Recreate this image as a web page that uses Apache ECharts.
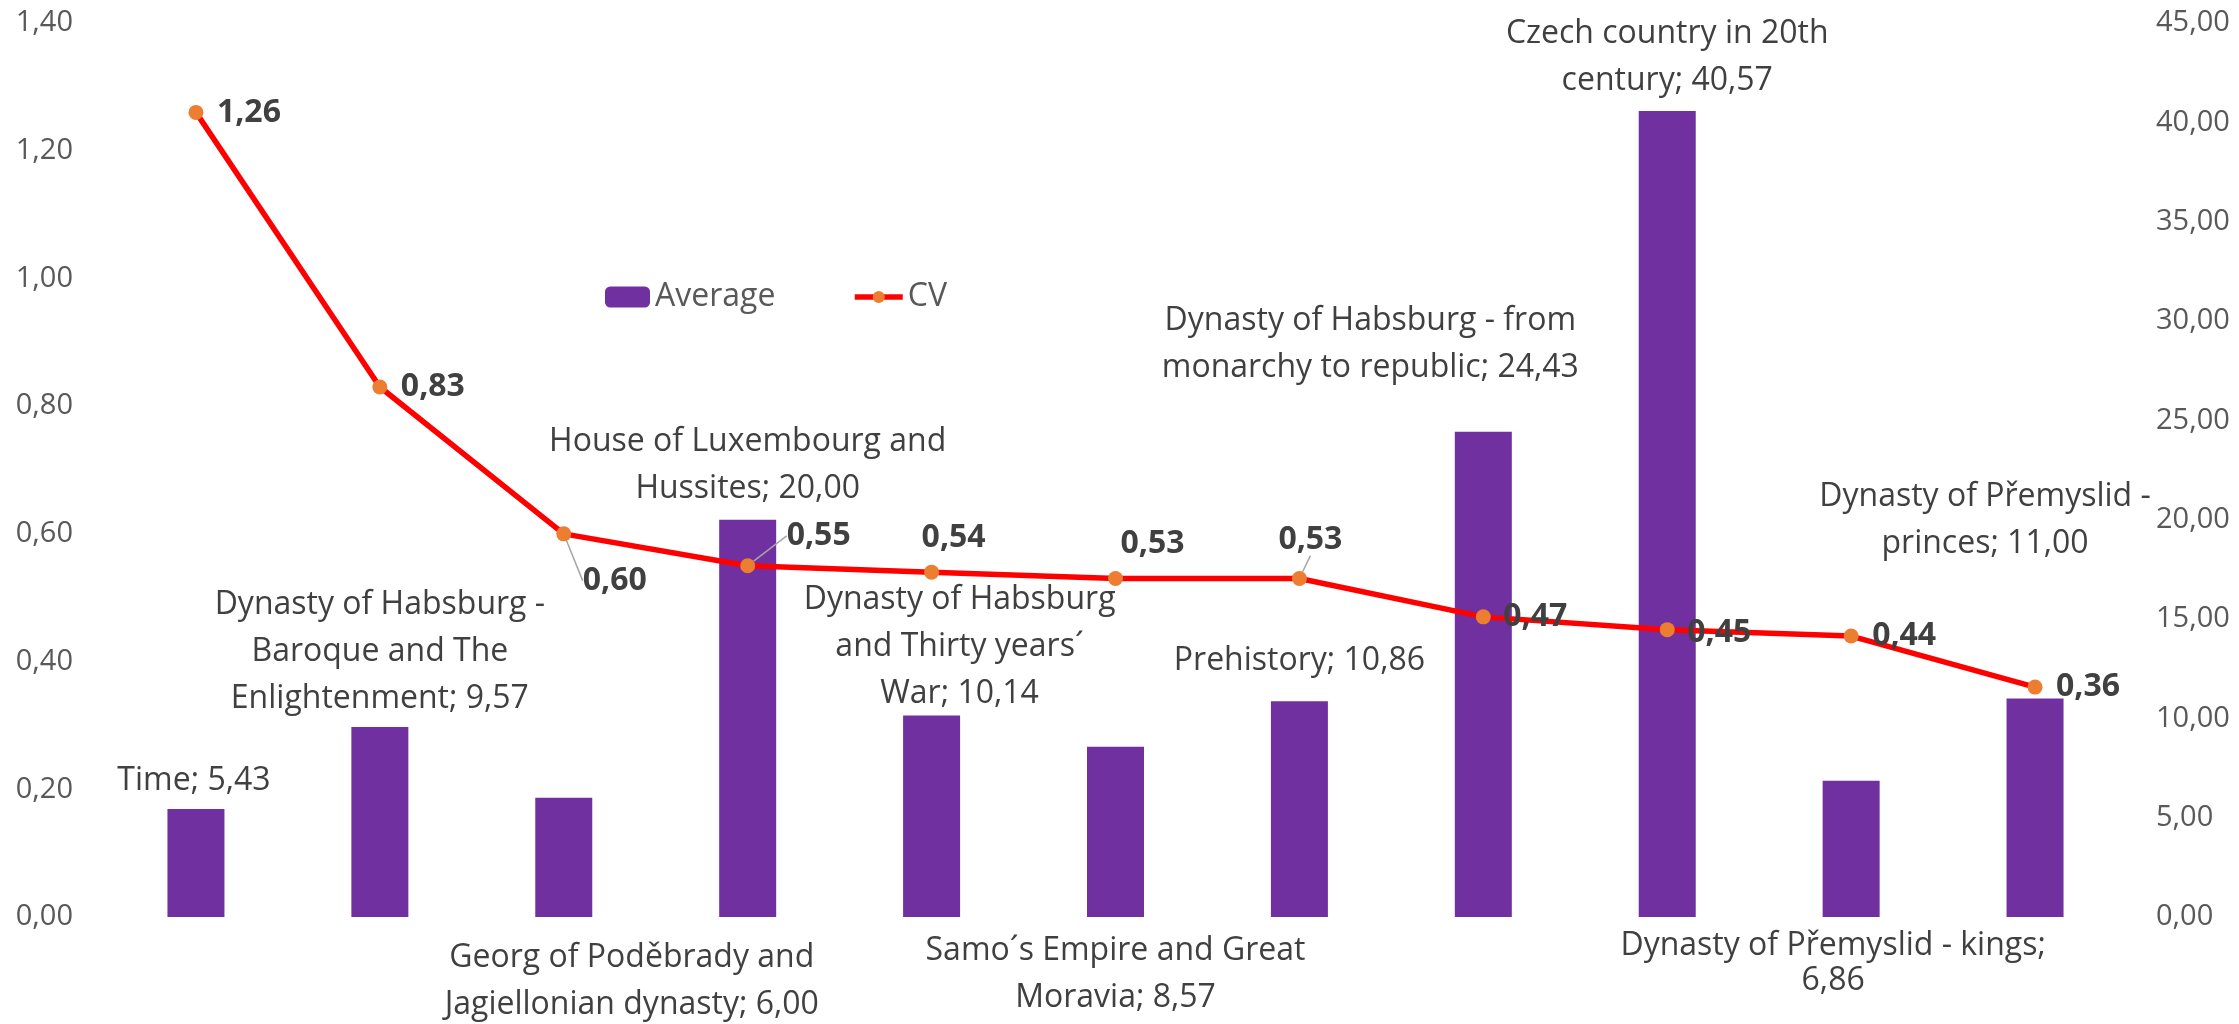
<!DOCTYPE html>
<html>
<head>
<meta charset="utf-8">
<script src="https://cdn.jsdelivr.net/npm/echarts@6/dist/echarts.min.js"></script>
<style>
html,body{margin:0;padding:0;background:#ffffff;}
#chart{width:2239px;height:1024px;}
</style>
</head>
<body>
<div id="chart"></div>
<script>
// ---------------- data ----------------
const categories = [
  "Time",
  "Dynasty of Habsburg - Baroque and The Enlightenment",
  "Georg of Poděbrady and Jagiellonian dynasty",
  "House of Luxembourg and Hussites",
  "Dynasty of Habsburg and Thirty years´ War",
  "Samo´s Empire and Great Moravia",
  "Prehistory",
  "Dynasty of Habsburg - from monarchy to republic",
  "Czech country in 20th century",
  "Dynasty of Přemyslid - kings",
  "Dynasty of Přemyslid - princes"
];
const averageValues = [5.43, 9.57, 6.00, 20.00, 10.14, 8.57, 10.86, 24.43, 40.57, 6.86, 11.00];
const cvValues = [1.26, 0.83, 0.60, 0.55, 0.54, 0.53, 0.53, 0.47, 0.45, 0.44, 0.36];
const leftTicks = [0.00, 0.20, 0.40, 0.60, 0.80, 1.00, 1.20, 1.40];
const rightTicks = [0, 5, 10, 15, 20, 25, 30, 35, 40, 45];
// bar label text, wrapped as in the original ({v} = value)
const barLabelText = [
  "Time; {v}",
  "Dynasty of Habsburg -\nBaroque and The\nEnlightenment; {v}",
  "Georg of Poděbrady and\nJagiellonian dynasty; {v}",
  "House of Luxembourg and\nHussites; {v}",
  "Dynasty of Habsburg\nand Thirty years´\nWar; {v}",
  "Samo´s Empire and Great\nMoravia; {v}",
  "Prehistory; {v}",
  "Dynasty of Habsburg - from\nmonarchy to republic; {v}",
  "Czech country in 20th\ncentury; {v}",
  "Dynasty of Přemyslid - kings;\n{v}",
  "Dynasty of Přemyslid -\nprinces; {v}"
];

// ---------------- layout / style ----------------
const barLabelSide = ['top','top','bottom','top','top','bottom','top','top','top','bottom','top'];
const barLabelShift = [[-2,0],[0,1],[68,12],[0,-2],[28,7],[0,5],[0,-12],[-113,-35],[0,-2],[-18,6],[-50,-126]];
const barLabelLineHeight = [47,47,47,47,47,47,47,47,47,35,47];
const cvLabelShift = [[53,0],[53,0],[51,47],[71,-30],[22,-34],[37,-35],[11,-39],[52,0],[52,3],[53,0],[53,0]];
const cvLeader = [false,false,true,true,false,false,true,false,false,false,false];

const FONT = "'Open Sans', 'Noto Sans', sans-serif";
const fmt = v => Number(v).toFixed(2).replace('.', ',');

const chart = echarts.init(document.getElementById('chart'), null, {renderer: 'canvas'});

const option = {
  animation: false,
  backgroundColor: '#ffffff',
  textStyle: {fontFamily: FONT},
  grid: {left: 104, right: 112, top: 23, bottom: 107, containLabel: false},
  legend: [
    {
      data: ['Average'], left: 605, top: 281, padding: 0,
      itemWidth: 45, itemHeight: 21,
      textStyle: {fontSize: 32, color: '#595959', fontFamily: FONT}
    },
    {
      data: ['CV'], left: 852, top: 281, padding: 0,
      itemWidth: 48, itemHeight: 15,
      lineStyle: {width: 5.5, color: '#FF0000'},
      textStyle: {fontSize: 32, color: '#595959', fontFamily: FONT}
    }
  ],
  xAxis: {
    type: 'category',
    data: categories,
    axisLine: {show: false},
    axisTick: {show: false},
    axisLabel: {show: false},
    splitLine: {show: false}
  },
  yAxis: [
    {
      type: 'value', position: 'left',
      min: leftTicks[0], max: leftTicks[leftTicks.length - 1],
      interval: leftTicks[1] - leftTicks[0],
      axisLine: {show: false}, axisTick: {show: false}, splitLine: {show: false},
      axisLabel: {formatter: v => fmt(v), fontSize: 29, color: '#595959', margin: 31, fontFamily: FONT}
    },
    {
      type: 'value', position: 'right',
      min: rightTicks[0], max: rightTicks[rightTicks.length - 1],
      interval: rightTicks[1] - rightTicks[0],
      axisLine: {show: false}, axisTick: {show: false}, splitLine: {show: false},
      axisLabel: {formatter: v => fmt(v), fontSize: 29, color: '#595959', margin: 29, fontFamily: FONT}
    }
  ],
  series: [
    {
      name: 'Average',
      type: 'bar',
      yAxisIndex: 1,
      barWidth: 57,
      itemStyle: {color: '#7030A0'},
      z: 2,
      label: {
        show: true,
        fontSize: 32,
        lineHeight: 47,
        color: '#404040',
        fontFamily: FONT,
        align: 'center',
        formatter: p => barLabelText[p.dataIndex].replace('{v}', fmt(p.value))
      },
      data: averageValues.map((v, i) => ({
        value: v,
        label: {position: barLabelSide[i], offset: barLabelShift[i], lineHeight: barLabelLineHeight[i]}
      }))
    },
    {
      name: 'CV',
      type: 'line',
      yAxisIndex: 0,
      z: 5,
      symbol: 'circle',
      symbolSize: 15,
      itemStyle: {color: '#ED7D31'},
      lineStyle: {color: '#FF0000', width: 5.5},
      label: {
        show: true,
        position: 'inside',
        fontSize: 32,
        fontWeight: 'bold',
        color: '#404040',
        fontFamily: FONT,
        formatter: p => fmt(p.value)
      },
      labelLine: {show: true, lineStyle: {color: '#a6a6a6', width: 1.5}},
      labelLayout: p => ({dx: cvLabelShift[p.dataIndex][0], dy: cvLabelShift[p.dataIndex][1]}),
      data: cvValues.map((v, i) => ({
        value: v,
        labelLine: {show: cvLeader[i]}
      }))
    }
  ]
};
chart.setOption(option);
</script>
</body>
</html>
